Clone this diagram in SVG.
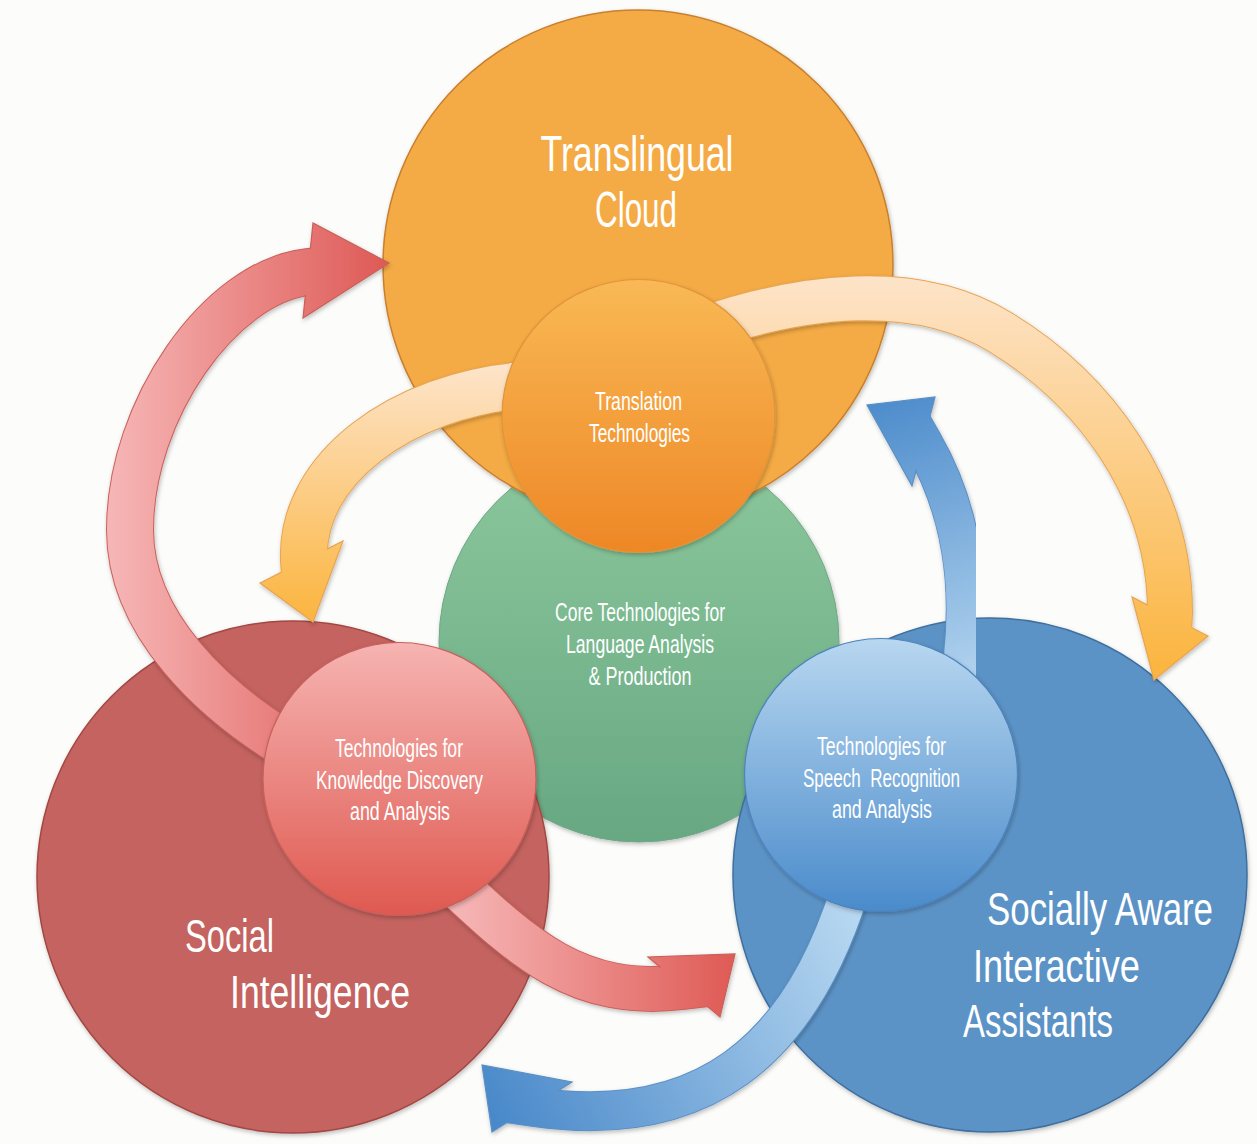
<svg xmlns="http://www.w3.org/2000/svg" width="1257" height="1144" viewBox="0 0 1257 1144">
<defs>
<style>
.t{fill:#ffffff;font-family:"Liberation Sans Narrow","Liberation Sans",Arial,sans-serif;text-anchor:middle}
.big{font-size:50px}
.mid{font-size:46px}
.sm{font-size:25px}
.bo{fill:none;stroke-linecap:butt}
</style>
<filter id="sh" x="-10%" y="-10%" width="120%" height="120%">
<feDropShadow dx="1" dy="2" stdDeviation="2" flood-color="#000" flood-opacity="0.25"/>
</filter>
<linearGradient id="gSO" x1="0" y1="0" x2="0" y2="1"><stop offset="0" stop-color="#f9b955"/><stop offset="1" stop-color="#ee8726"/></linearGradient>
<linearGradient id="gSR" x1="0" y1="0" x2="0" y2="1"><stop offset="0" stop-color="#f6b4b2"/><stop offset="1" stop-color="#df5950"/></linearGradient>
<linearGradient id="gSB" x1="0" y1="0" x2="0" y2="1"><stop offset="0" stop-color="#b8d7f0"/><stop offset="1" stop-color="#4a8bcb"/></linearGradient>
<linearGradient id="gG" x1="0" y1="0" x2="0" y2="1"><stop offset="0" stop-color="#8dc89c"/><stop offset="1" stop-color="#67a883"/></linearGradient>
<linearGradient id="gR1" gradientUnits="userSpaceOnUse" x1="110" y1="0" x2="390" y2="0"><stop offset="0" stop-color="#f6b6b6"/><stop offset="1" stop-color="#de5955"/></linearGradient>
<linearGradient id="gR2" gradientUnits="userSpaceOnUse" x1="450" y1="0" x2="735" y2="0"><stop offset="0" stop-color="#f6b8b8"/><stop offset="1" stop-color="#df5a55"/></linearGradient>
<linearGradient id="gO1" gradientUnits="userSpaceOnUse" x1="0" y1="370" x2="0" y2="625"><stop offset="0" stop-color="#fde3c7"/><stop offset="1" stop-color="#fbb43c"/></linearGradient>
<linearGradient id="gO2" gradientUnits="userSpaceOnUse" x1="0" y1="280" x2="0" y2="682"><stop offset="0" stop-color="#fde3c7"/><stop offset="1" stop-color="#fbb43c"/></linearGradient>
<linearGradient id="gB1" gradientUnits="userSpaceOnUse" x1="975" y1="700" x2="870" y2="400"><stop offset="0" stop-color="#b8d8f1"/><stop offset="1" stop-color="#4c8bcb"/></linearGradient>
<linearGradient id="gB2" gradientUnits="userSpaceOnUse" x1="850" y1="900" x2="485" y2="1100"><stop offset="0" stop-color="#b8d8f1"/><stop offset="1" stop-color="#4a89ca"/></linearGradient>
</defs>
<rect width="1257" height="1144" fill="#fcfcfb"/>

<g id="core">
<circle cx="639" cy="642" r="200" fill="url(#gG)" stroke="#6fa886" stroke-width="1" filter="url(#sh)"/>
<text class="t sm" x="640" y="621" textLength="170" lengthAdjust="spacingAndGlyphs">Core Technologies for</text>
<text class="t sm" x="640" y="653" textLength="148" lengthAdjust="spacingAndGlyphs">Language Analysis</text>
<text class="t sm" x="640" y="685" textLength="103" lengthAdjust="spacingAndGlyphs">&amp; Production</text>
</g>

<g id="translingual-cloud">
<circle cx="638" cy="265" r="255" fill="#f5ab45" stroke="#c9802e" stroke-width="1.5" filter="url(#sh)"/>
<text class="t big" x="637" y="171" textLength="193" lengthAdjust="spacingAndGlyphs">Translingual</text>
<text class="t big" x="636" y="227" textLength="82" lengthAdjust="spacingAndGlyphs">Cloud</text>
</g>

<g id="social-intelligence">
<circle cx="293" cy="877" r="256" fill="#c4645e" stroke="#a34743" stroke-width="1.5" filter="url(#sh)"/>
<text class="t mid" x="229.5" y="952" textLength="89" lengthAdjust="spacingAndGlyphs">Social</text>
<text class="t mid" x="320" y="1008" textLength="180" lengthAdjust="spacingAndGlyphs">Intelligence</text>
</g>

<g id="socially-aware-assistants">
<circle cx="990" cy="875" r="257" fill="#5c93c6" stroke="#3f6f9e" stroke-width="1.5" filter="url(#sh)"/>
<text class="t mid" x="1100" y="925" textLength="226" lengthAdjust="spacingAndGlyphs">Socially Aware</text>
<text class="t mid" x="1056.5" y="982" textLength="167" lengthAdjust="spacingAndGlyphs">Interactive</text>
<text class="t mid" x="1038" y="1037" textLength="150" lengthAdjust="spacingAndGlyphs">Assistants</text>
</g>

<g id="connectors">
<g id="arrow-knowledge-to-cloud" filter="url(#sh)">
<path class="bo" d="M290,747 C215,702 130,625 130,530 C130,410 220,282 308,272 L318,271" stroke="#c9605b" stroke-width="48"/>
<path class="bo" d="M290,747 C215,702 130,625 130,530 C130,410 220,282 308,272 L318,271" stroke="url(#gR1)" stroke-width="46"/>
<polygon points="310.3,249.1 313,223 389,263 303,318 305.4,294.9" fill="url(#gR1)"/>
<polyline points="310.3,249.1 313,223 389,263 303,318 305.4,294.9" fill="none" stroke="#c9605b" stroke-width="1.2"/>
</g>
<g id="arrow-translation-to-social" filter="url(#sh)">
<path class="bo" d="M525,385 C400,395 300,470 304,560 L305,574" stroke="#e7a452" stroke-width="48"/>
<path class="bo" d="M525,385 C400,395 300,470 304,560 L305,574" stroke="url(#gO1)" stroke-width="46"/>
<polygon points="281,572.4 260,583 313,622 343,541 327,549.1" fill="url(#gO1)"/>
<polyline points="281,572.4 260,583 313,622 343,541 327,549.1" fill="none" stroke="#e7a452" stroke-width="1.2"/>
</g>
<g id="arrow-translation-to-assistants" filter="url(#sh)">
<path class="bo" d="M700,330 C800,295 915,280 1000,332 C1094,389 1170,490 1170,612 L1169,632" stroke="#e7a452" stroke-width="46"/>
<path class="bo" d="M700,330 C800,295 915,280 1000,332 C1094,389 1170,490 1170,612 L1169,632" stroke="url(#gO2)" stroke-width="44"/>
<polygon points="1148,605.2 1132,597 1154,680 1208,636 1192,627.8" fill="url(#gO2)"/>
<polyline points="1148,605.2 1132,597 1154,680 1208,636 1192,627.8" fill="none" stroke="#e7a452" stroke-width="1.2"/>
</g>
<g id="arrow-speech-to-cloud" filter="url(#sh)">
<path class="bo" d="M955,705 C975,612 968,521 923,443 L911,422" stroke="#5a8fc4" stroke-width="40"/>
<path class="bo" d="M955,705 C975,612 968,521 923,443 L911,422" stroke="url(#gB1)" stroke-width="38"/>
<polygon points="929.9,416.8 935,397 867,405 912,486 916.3,469.5" fill="url(#gB1)"/>
<polyline points="929.9,416.8 935,397 867,405 912,486 916.3,469.5" fill="none" stroke="#5a8fc4" stroke-width="1.2"/>
</g>
<g id="arrow-speech-to-social" filter="url(#sh)">
<path class="bo" d="M850,890 C799,1052 702,1131 534,1107 L506,1103" stroke="#5a8fc4" stroke-width="40"/>
<path class="bo" d="M850,890 C799,1052 702,1131 534,1107 L506,1103" stroke="url(#gB2)" stroke-width="38"/>
<polygon points="557.7,1091 572,1082 482,1065 492,1132 507,1122.6" fill="url(#gB2)"/>
<polyline points="557.7,1091 572,1082 482,1065 492,1132 507,1122.6" fill="none" stroke="#5a8fc4" stroke-width="1.2"/>
</g>
<g id="arrow-knowledge-to-assistants" filter="url(#sh)">
<path class="bo" d="M440,870 C520,945 574,1000 683,987 L709,984" stroke="#c9605b" stroke-width="46"/>
<path class="bo" d="M440,870 C520,945 574,1000 683,987 L709,984" stroke="url(#gR2)" stroke-width="44"/>
<polygon points="660.6,967.5 648,957 735,954 720,1017 707,1006" fill="url(#gR2)"/>
<polyline points="660.6,967.5 648,957 735,954 720,1017 707,1006" fill="none" stroke="#c9605b" stroke-width="1.2"/>
</g>
</g>

<g id="translation-technologies">
<circle cx="638.5" cy="416" r="136.5" fill="url(#gSO)" stroke="#e0953a" stroke-width="1.2" filter="url(#sh)"/>
<text class="t sm" x="638.5" y="410" textLength="87" lengthAdjust="spacingAndGlyphs">Translation</text>
<text class="t sm" x="639.5" y="442" textLength="101" lengthAdjust="spacingAndGlyphs">Technologies</text>
</g>

<g id="knowledge-discovery">
<circle cx="399.5" cy="779" r="136.5" fill="url(#gSR)" stroke="#c9605b" stroke-width="1.2" filter="url(#sh)"/>
<text class="t sm" x="399" y="757" textLength="128" lengthAdjust="spacingAndGlyphs">Technologies for</text>
<text class="t sm" x="399.5" y="789" textLength="167" lengthAdjust="spacingAndGlyphs">Knowledge Discovery</text>
<text class="t sm" x="400" y="820" textLength="100" lengthAdjust="spacingAndGlyphs">and Analysis</text>
</g>

<g id="speech-recognition">
<circle cx="881" cy="775" r="136.5" fill="url(#gSB)" stroke="#4d84bd" stroke-width="1.2" filter="url(#sh)"/>
<text class="t sm" x="881.5" y="755" textLength="129" lengthAdjust="spacingAndGlyphs">Technologies for</text>
<text class="t sm" x="881.5" y="787" textLength="157" lengthAdjust="spacingAndGlyphs" xml:space="preserve">Speech  Recognition</text>
<text class="t sm" x="882" y="818" textLength="100" lengthAdjust="spacingAndGlyphs">and Analysis</text>
</g>
</svg>
